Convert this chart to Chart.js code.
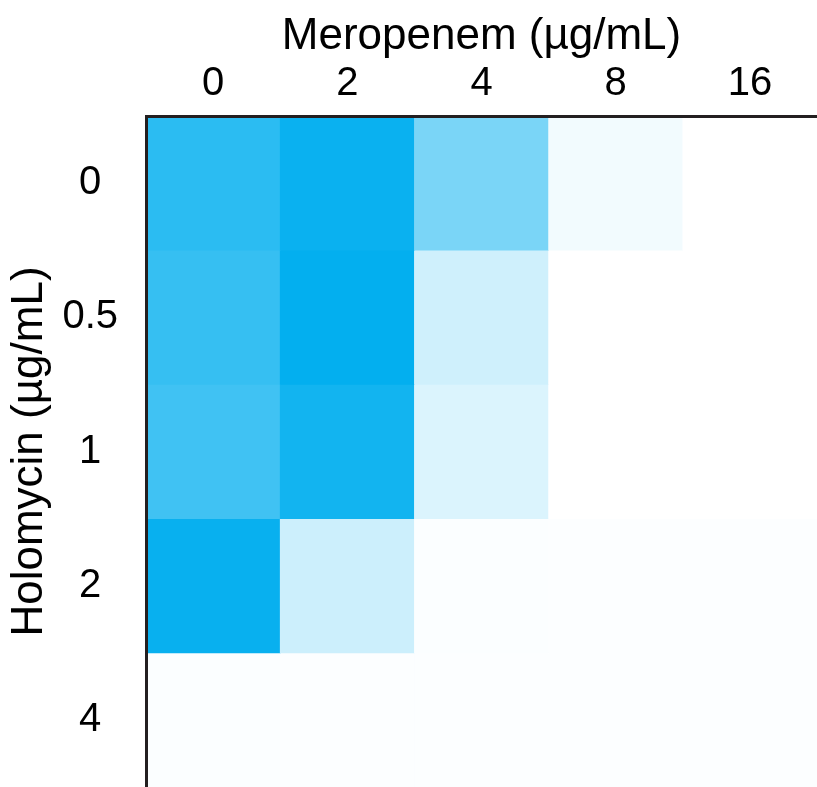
<!DOCTYPE html>
<html>
<head>
<meta charset="utf-8">
<script src="https://cdn.jsdelivr.net/npm/chart.js@4"></script>
<style>
  html, body { margin: 0; padding: 0; background: #fff; }
  #wrap { width: 817px; height: 787px; }
</style>
</head>
<body>
<div id="wrap"><canvas id="heatmap" width="817" height="787"></canvas></div>
<script>
// axis categories
const meropenem = ['0', '2', '4', '8', '16'];
const holomycin = ['0', '0.5', '1', '2', '4'];

// relative growth per holomycin row (0 = no growth, 1 = full)
const growthH0 = [0.83, 0.96, 0.52, 0.05, 0.00];
const growthH05 = [0.79, 0.99, 0.19, 0.00, 0.00];
const growthH1 = [0.75, 0.93, 0.14, 0.00, 0.00];
const growthH2 = [0.97, 0.20, 0.016, 0.01, 0.01];
const growthH4 = [0.016, 0.012, 0.012, 0.01, 0.01];
const rows = [growthH0, growthH05, growthH1, growthH2, growthH4];

// white -> cyan ramp
function cellColor(v) {
  const r = Math.round(255 - 255 * v);
  const g = Math.round(255 - 81 * v);
  const b = Math.round(255 - 16 * v);
  return `rgb(${r}, ${g}, ${b})`;
}

const fontFamily = "'Liberation Sans', Arial, sans-serif";
const axisColor = '#231f20';

const datasets = rows.map((row, i) => ({
  label: holomycin[i],
  data: meropenem.map(() => 1),
  backgroundColor: row.map(cellColor),
  borderWidth: 0,
  barPercentage: 1,
  categoryPercentage: 1
}));

const ctx = document.getElementById('heatmap').getContext('2d');
new Chart(ctx, {
  type: 'bar',
  data: { labels: meropenem, datasets },
  options: {
    responsive: false,
    devicePixelRatio: 1,
    animation: false,
    layout: { padding: 0 },
    plugins: {
      legend: { display: false },
      tooltip: { enabled: false }
    },
    scales: {
      x: {
        type: 'category',
        position: 'top',
        stacked: true,
        afterFit: s => { s.height = 116; s.paddingLeft = 0; s.paddingRight = 0; },
        grid: { display: true, color: 'transparent', drawTicks: false },
        border: { display: true, color: axisColor, width: 3, z: 1 },
        ticks: { color: '#000', padding: 8, maxRotation: 0, font: { family: fontFamily, size: 40 } },
        title: {
          display: true,
          text: 'Meropenem (µg/mL)',
          color: '#000',
          font: { family: fontFamily, size: 44 },
          padding: { top: 10, bottom: 0 }
        }
      },
      y: {
        stacked: true,
        reverse: true,
        min: 0,
        max: holomycin.length,
        afterBuildTicks: s => { s.ticks = holomycin.map((_, i) => ({ value: i + 0.5 })); },
        afterFit: s => { s.width = 146; s.paddingTop = 0; s.paddingBottom = 0; },
        grid: { display: true, color: 'transparent', drawTicks: false },
        border: { display: true, color: axisColor, width: 3, z: 1 },
        ticks: {
          color: '#000',
          crossAlign: 'center',
          padding: 28,
          font: { family: fontFamily, size: 40 },
          callback: (v, i) => holomycin[i]
        },
        title: {
          display: true,
          text: 'Holomycin (µg/mL)',
          color: '#000',
          font: { family: fontFamily, size: 44 },
          padding: { top: 3, bottom: 0 }
        }
      }
    }
  }
});
</script>
</body>
</html>
